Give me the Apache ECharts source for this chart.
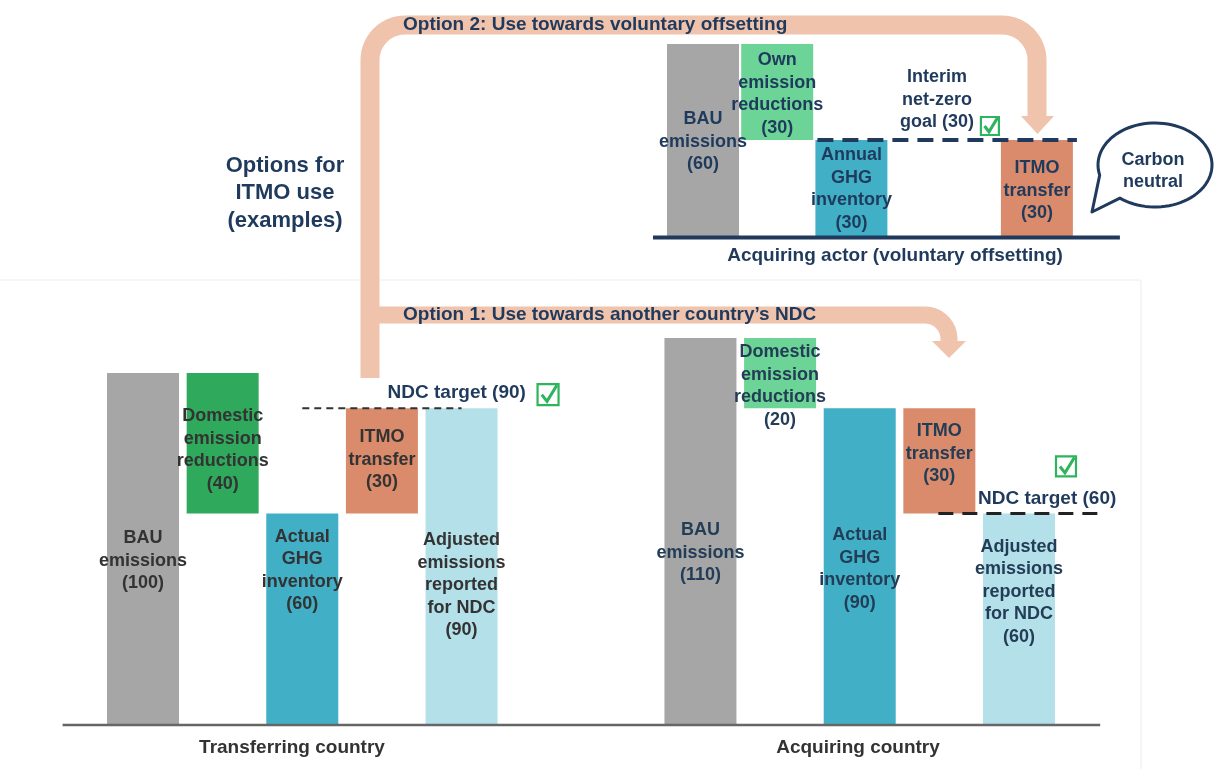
<!DOCTYPE html>
<html>
<head>
<meta charset="utf-8">
<script src="https://cdn.jsdelivr.net/npm/echarts@6/dist/echarts.min.js"></script>
<style>
html,body{margin:0;padding:0;background:#fff;}
#c{width:1214px;height:769px;}
</style>
</head>
<body>
<div id="c"></div>
<script>
// ---------------- DATA ----------------
const transferCategories = ['BAU\nemissions', 'Domestic\nemission\nreductions', 'Actual\nGHG\ninventory', 'ITMO\ntransfer', 'Adjusted\nemissions\nreported\nfor NDC'];
const transferValues = [100, 40, 60, 30, 90];
const transferBase = [0, 60, 0, 60, 0];
const transferTarget = 90;

const acquireCategories = ['BAU\nemissions', 'Domestic\nemission\nreductions', 'Actual\nGHG\ninventory', 'ITMO\ntransfer', 'Adjusted\nemissions\nreported\nfor NDC'];
const acquireValues = [110, 20, 90, 30, 60];
const acquireBase = [0, 90, 0, 60, 0];
const acquireTarget = 60;

const actorCategories = ['BAU\nemissions', 'Own\nemission\nreductions', 'Annual\nGHG\ninventory', 'ITMO\ntransfer'];
const actorValues = [60, 30, 30, 30];
const actorBase = [0, 30, 0, 0];
const actorGoal = 30;

const groupTitles = ['Transferring country', 'Acquiring country', 'Acquiring actor (voluntary offsetting)'];
const optionTexts = ['Option 1: Use towards another country\u2019s NDC', 'Option 2: Use towards voluntary offsetting'];

// ---------------- STYLE ----------------
const FONT = '"Liberation Sans", Arial, Helvetica, sans-serif';
const NAVY = '#1f3a5c';
const ARROW = '#f0c3ad';
const GREEN = '#2eb45c';
const transferColors = ['#a6a6a6', '#2fa95b', '#41afc6', '#d98b6b', '#b4e0ea'];
const acquireColors = ['#a6a6a6', '#6dd497', '#41afc6', '#d98b6b', '#b4e0ea'];
const actorColors = ['#a6a6a6', '#6dd497', '#41afc6', '#d98b6b'];
const transferShift = [12, 7, -48, -1, 19];
const acquireShift = [22, 13, 3, -7, -27];
const actorShift = [2, 2, 1, 3];

// slot layout
const bottomSlotIdx = [0, 1, 2, 3, 4, 7, 8, 9, 10, 11];
const bottomSlots = 12;
const actorSlotIdx = [0, 2, 4, 9];
const actorSlots = 10;

function build(groups, nSlots) {
  const base = new Array(nSlots).fill('-');
  const vals = new Array(nSlots).fill('-');
  const texts = new Array(nSlots).fill('');
  groups.forEach(g => {
    g.values.forEach((v, i) => {
      const s = g.slots[i];
      base[s] = g.base[i];
      texts[s] = g.cats[i] + '\n(' + v + ')';
      vals[s] = {
        value: v,
        itemStyle: { color: g.colors[i] },
        label: { offset: [0, g.shift[i]], color: g.labelColor }
      };
    });
  });
  return { base, vals, texts };
}

const bottomData = build([
  { cats: transferCategories, values: transferValues, base: transferBase, colors: transferColors, shift: transferShift, labelColor: '#333333', slots: bottomSlotIdx.slice(0, 5) },
  { cats: acquireCategories, values: acquireValues, base: acquireBase, colors: acquireColors, shift: acquireShift, labelColor: '#243d56', slots: bottomSlotIdx.slice(5) }
], bottomSlots);

const topData = build([
  { cats: actorCategories, values: actorValues, base: actorBase, colors: actorColors, shift: actorShift, labelColor: NAVY, slots: actorSlotIdx }
], actorSlots);

const slotNames = n => Array.from({ length: n }, (_, i) => 's' + i);

const labelStyle = texts => ({
  show: true,
  position: 'inside',
  fontFamily: FONT,
  fontSize: 18,
  fontWeight: 'bold',
  lineHeight: 22.5,
  formatter: p => texts[p.dataIndex]
});

const hiddenAxis = { show: false };

const chart = echarts.init(document.getElementById('c'));
chart.setOption({
  animation: false,
  backgroundColor: '#ffffff',
  grid: [
    { left: 103.2, width: 955.6, top: 338, height: 386 },
    { left: 684.45, width: 371, top: 44, height: 192 }
  ],
  xAxis: [
    { type: 'category', gridIndex: 0, data: slotNames(bottomSlots), boundaryGap: true, ...hiddenAxis },
    { type: 'category', gridIndex: 1, data: slotNames(actorSlots), boundaryGap: true, ...hiddenAxis }
  ],
  yAxis: [
    { type: 'value', gridIndex: 0, min: 0, max: 110, ...hiddenAxis },
    { type: 'value', gridIndex: 1, min: 0, max: 60, ...hiddenAxis }
  ],
  series: [
    { type: 'bar', xAxisIndex: 0, yAxisIndex: 0, stack: 'b', data: bottomData.base, barWidth: 72, clip: false, silent: true, itemStyle: { color: 'rgba(0,0,0,0)' } },
    { type: 'bar', xAxisIndex: 0, yAxisIndex: 0, stack: 'b', data: bottomData.vals, barWidth: 72, clip: false, label: labelStyle(bottomData.texts) },
    { type: 'bar', xAxisIndex: 1, yAxisIndex: 1, stack: 't', data: topData.base, barWidth: 72, clip: false, silent: true, itemStyle: { color: 'rgba(0,0,0,0)' } },
    { type: 'bar', xAxisIndex: 1, yAxisIndex: 1, stack: 't', data: topData.vals, barWidth: 72, clip: false, label: labelStyle(topData.texts) }
  ]
});

// ---------------- DECORATIONS (positioned through the axes) ----------------
const P = (g, x, y) => chart.convertToPixel({ xAxisIndex: g, yAxisIndex: g }, [x, y]);
const pitch = P(0, 1, 0)[0] - P(0, 0, 0)[0];
const y0 = P(0, 0, 0)[1];
const yT = P(0, 0, transferTarget)[1];
const yA = P(0, 0, acquireTarget)[1];
const ty0 = P(1, 0, 0)[1];
const yG = P(1, 0, actorGoal)[1];
const bx = i => P(0, i, 0)[0];
const tx = i => P(1, i, 0)[0];

function arcPts(cx, cy, rx, ry, a0, a1, n) {
  const pts = [];
  for (let k = 0; k <= n; k++) {
    const a = (a0 + (a1 - a0) * k / n) * Math.PI / 180;
    pts.push([cx + rx * Math.cos(a), cy + ry * Math.sin(a)]);
  }
  return pts;
}

function text(str, x, y, opts) {
  return {
    type: 'text', z: 120,
    style: Object.assign({
      text: str, x: x, y: y, fill: NAVY,
      font: 'bold 18px ' + FONT,
      textAlign: 'center', textVerticalAlign: 'middle', lineHeight: 22.5
    }, opts || {})
  };
}
function check(x, y, s) {
  return [
    { type: 'rect', z: 110, shape: { x: x, y: y, width: s, height: s }, style: { fill: '#fff', stroke: GREEN, lineWidth: 2.2 } },
    { type: 'polyline', z: 111, shape: { points: [[x + s * 0.2, y + s * 0.5], [x + s * 0.45, y + s * 0.82], [x + s * 0.92, y + s * 0.05]] }, style: { stroke: GREEN, lineWidth: 3, fill: null } }
  ];
}

const F19 = 'bold 19px ' + FONT;

// arrow centre lines
const arrow2 = [[370, 378], ...arcPts(405, 60, 35, 35, 180, 270, 16), ...arcPts(1002, 60, 35, 35, 270, 360, 16), [1037, 118]];
const arrow1 = [[370, 315], ...arcPts(925, 339, 24, 24, 270, 360, 12), [949, 343]];
// speech bubble outline
const bubbleCx = 1155, bubbleCy = 165;
const bubble = [...arcPts(bubbleCx, bubbleCy, 57, 42, 128, -194, 80), [1092, 212]];

const graphics = [
  { type: 'polyline', z: 1, shape: { points: [[0, 280], [1141, 280], [1141, 769]] }, style: { stroke: '#ececec', lineWidth: 1, fill: null } },
  { type: 'polyline', z: 50, shape: { points: arrow2 }, style: { stroke: ARROW, lineWidth: 19, fill: null, lineJoin: 'round' } },
  { type: 'polygon', z: 50, shape: { points: [[1021, 116], [1054, 116], [1037.5, 134]] }, style: { fill: ARROW } },
  { type: 'polyline', z: 50, shape: { points: arrow1 }, style: { stroke: ARROW, lineWidth: 17, fill: null, lineJoin: 'round' } },
  { type: 'polygon', z: 50, shape: { points: [[932, 341], [966, 341], [949, 358]] }, style: { fill: ARROW } },
  { type: 'line', z: 100, shape: { x1: bx(0) - pitch * 1.01, y1: y0 + 1, x2: bx(11) + pitch * 1.02, y2: y0 + 1 }, style: { stroke: '#666666', lineWidth: 2.5 } },
  { type: 'line', z: 100, shape: { x1: tx(0) - 50, y1: ty0 + 1.5, x2: tx(9) + 83, y2: ty0 + 1.5 }, style: { stroke: NAVY, lineWidth: 4 } },
  { type: 'line', z: 105, shape: { x1: bx(2), y1: yT, x2: bx(4), y2: yT }, style: { stroke: '#333333', lineWidth: 2, lineDash: [7, 5] } },
  { type: 'line', z: 105, shape: { x1: bx(10) - 1, y1: yA, x2: bx(11) + pitch * 1.02, y2: yA }, style: { stroke: '#222222', lineWidth: 3, lineDash: [15, 9] } },
  { type: 'line', z: 105, shape: { x1: tx(4) - 34, y1: yG, x2: tx(9) + 40, y2: yG }, style: { stroke: NAVY, lineWidth: 4, lineDash: [16, 9] } },
  ...check(bx(4) + 76, yT - 24, 21),
  ...check(bx(11) + 37, yA - 57, 20),
  ...check(tx(9) - 56, yG - 23, 18),
  { type: 'polygon', z: 100, shape: { points: bubble }, style: { fill: '#ffffff', stroke: NAVY, lineWidth: 3, lineJoin: 'round' } },
  text('Carbon\nneutral', 1153, 171, { lineHeight: 22 }),
  text(optionTexts[1], 403, 25, { textAlign: 'left', font: F19 }),
  text(optionTexts[0], 403, 315, { textAlign: 'left', font: F19 }),
  text('Options for\nITMO use\n(examples)', 285, 193, { font: 'bold 22px ' + FONT, lineHeight: 27.5 }),
  text('Interim\nnet-zero\ngoal (30)', tx(9) - 100, yG - 40),
  text('NDC target (' + transferTarget + ')', bx(4) - 74, yT - 15, { textAlign: 'left', font: F19 }),
  text('NDC target (' + acquireTarget + ')', bx(11) - 41, yA - 15, { textAlign: 'left', font: F19 }),
  text(groupTitles[0], 292, 748, { fill: '#333333', font: F19 }),
  text(groupTitles[1], 858, 748, { fill: '#333333', font: F19 }),
  text(groupTitles[2], 895, 256, { font: F19 })
];

chart.setOption({ graphic: graphics });
</script>
</body>
</html>
